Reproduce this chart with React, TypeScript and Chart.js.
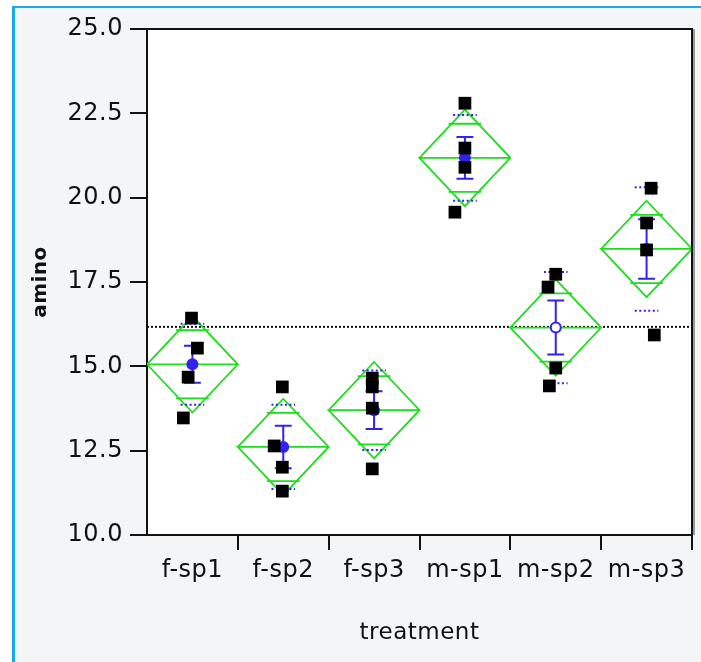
import React, { useEffect, useRef } from 'react';
import { Chart, registerables } from 'chart.js';

Chart.register(...registerables);

// ---- data ----
const CATEGORIES = ['f-sp1', 'f-sp2', 'f-sp3', 'm-sp1', 'm-sp2', 'm-sp3'];
const AMINO_FSP1 = [16.43, 15.54, 14.68, 13.47];
const AMINO_FSP2 = [14.39, 12.64, 12.01, 11.3];
const AMINO_FSP3 = [14.65, 14.39, 13.76, 11.96];
const AMINO_MSP1 = [22.8, 21.47, 20.9, 19.57];
const AMINO_MSP2 = [17.73, 17.35, 14.95, 14.42];
const AMINO_MSP3 = [20.28, 19.25, 18.45, 15.93];
const AMINO = [AMINO_FSP1, AMINO_FSP2, AMINO_FSP3, AMINO_MSP1, AMINO_MSP2, AMINO_MSP3];
// horizontal jitter of each point, in category units
const JITTER = [
  [-0.01, 0.055, -0.047, -0.1],
  [-0.01, -0.1, -0.01, -0.01],
  [-0.02, -0.02, -0.02, -0.02],
  [0, 0, 0, -0.11],
  [0, -0.085, 0, -0.07],
  [0.05, 0, 0, 0.085],
];
const GROUP_MEANS = [15.06, 12.61, 13.7, 21.18, 16.15, 18.48];
const GROUP_SD = [1.2, 1.25, 1.18, 1.27, 1.65, 1.83];
const GROUP_SE = [0.55, 0.63, 0.56, 0.62, 0.8, 0.88];
const CI_HALF = 1.43;
const GRAND_MEAN = 16.17;
const Y_TICKS = [10, 12.5, 15, 17.5, 20, 22.5, 25];

const GREEN = '#1fdc1f';
const BLUE = '#3322ee';
const INK = '#111111';
const FONT = 'DejaVu Sans';

type P = { x: number; y: number | null };
function joinSegments(list: P[][]): P[] {
  const out: P[] = [];
  list.forEach((s) => {
    out.push(...s);
    out.push({ x: s[0].x, y: null });
  });
  return out;
}

export default function App() {
  const ref = useRef<HTMLCanvasElement>(null);

  useEffect(() => {
    if (!ref.current) return;
    const OV = CI_HALF / Math.SQRT2;
    const OVW = 0.18;
    const SDW = 0.13;
    const CAPW = 0.093;

    const points = AMINO.flatMap((vals, i) => vals.map((v, j) => ({ x: i + JITTER[i][j], y: v })));
    const means = GROUP_MEANS.map((m, i) => ({ x: i, y: m }));
    const diamonds = joinSegments(
      GROUP_MEANS.map((m, i) => [
        { x: i - 0.5, y: m },
        { x: i, y: m + CI_HALF },
        { x: i + 0.5, y: m },
        { x: i, y: m - CI_HALF },
        { x: i - 0.5, y: m },
        { x: i + 0.5, y: m },
      ])
    );
    const overlap = joinSegments(
      GROUP_MEANS.flatMap((m, i) => [
        [{ x: i - OVW, y: m + OV }, { x: i + OVW, y: m + OV }],
        [{ x: i - OVW, y: m - OV }, { x: i + OVW, y: m - OV }],
      ])
    );
    const sdLines = joinSegments(
      GROUP_MEANS.flatMap((m, i) => [
        [{ x: i - SDW, y: m + GROUP_SD[i] }, { x: i + SDW, y: m + GROUP_SD[i] }],
        [{ x: i - SDW, y: m - GROUP_SD[i] }, { x: i + SDW, y: m - GROUP_SD[i] }],
      ])
    );
    const errBars = joinSegments(
      GROUP_MEANS.flatMap((m, i) => [
        [{ x: i, y: m - GROUP_SE[i] }, { x: i, y: m + GROUP_SE[i] }],
        [{ x: i - CAPW, y: m + GROUP_SE[i] }, { x: i + CAPW, y: m + GROUP_SE[i] }],
        [{ x: i - CAPW, y: m - GROUP_SE[i] }, { x: i + CAPW, y: m - GROUP_SE[i] }],
      ])
    );
    const grand = [
      { x: -0.5, y: GRAND_MEAN },
      { x: CATEGORIES.length - 0.5, y: GRAND_MEAN },
    ];

    const lineBase = {
      type: 'line' as const,
      xAxisID: 'xd',
      yAxisID: 'y',
      pointRadius: 0,
      fill: false,
      tension: 0,
      spanGaps: false,
    };

    const spacingPlugin = {
      id: 'spacing',
      beforeUpdate(chart: any) {
        chart.ctx.letterSpacing = '0.5px';
      },
      beforeDraw(chart: any) {
        chart.ctx.letterSpacing = '0.5px';
      },
    };

    const framePlugin = {
      id: 'frame',
      beforeDraw(chart: any) {
        const { ctx, chartArea: a } = chart;
        ctx.save();
        ctx.fillStyle = '#ffffff';
        ctx.fillRect(a.left, a.top, a.right - a.left, a.bottom - a.top);
        ctx.restore();
      },
      afterDraw(chart: any) {
        const { ctx, chartArea: a } = chart;
        ctx.save();
        ctx.strokeStyle = '#9a9a9a';
        ctx.lineWidth = 2;
        ctx.beginPath();
        ctx.moveTo(a.right + 2, a.top);
        ctx.lineTo(a.right + 2, a.bottom);
        ctx.stroke();
        ctx.strokeStyle = INK;
        ctx.lineWidth = 2;
        ctx.beginPath();
        ctx.moveTo(a.left, a.top);
        ctx.lineTo(a.right, a.top);
        ctx.lineTo(a.right, a.bottom);
        ctx.stroke();
        ctx.restore();
      },
    };

    const chart = new Chart(ref.current, {
      type: 'line',
      data: {
        labels: CATEGORIES,
        datasets: [
          {
            type: 'scatter',
            xAxisID: 'xd',
            yAxisID: 'y',
            data: points,
            pointStyle: 'rect',
            pointRadius: 9,
            backgroundColor: '#000000',
            borderWidth: 0,
            showLine: false,
          },
          {
            type: 'scatter',
            xAxisID: 'xd',
            yAxisID: 'y',
            data: means,
            pointStyle: 'circle',
            pointRadius: 5,
            backgroundColor: (c: any) => (c.dataIndex === 4 ? '#ffffff' : BLUE),
            borderColor: BLUE,
            borderWidth: 2,
            showLine: false,
          },
          { ...lineBase, data: errBars, borderColor: BLUE, borderWidth: 2 },
          { ...lineBase, data: sdLines, borderColor: BLUE, borderWidth: 2, borderDash: [2, 2.5] },
          { ...lineBase, data: overlap, borderColor: GREEN, borderWidth: 1.8 },
          { ...lineBase, data: diamonds, borderColor: GREEN, borderWidth: 1.8 },
          { ...lineBase, data: grand, borderColor: INK, borderWidth: 2, borderDash: [2, 2] },
        ] as any,
      },
      options: {
        animation: false,
        responsive: false,
        events: [],
        layout: { padding: { top: 29, right: 6, left: 0, bottom: 0 } },
        plugins: { legend: { display: false }, tooltip: { enabled: false } },
        font: { family: FONT, size: 24 },
        scales: {
          x: {
            type: 'category',
            position: 'bottom',
            offset: true,
            afterFit: (s: any) => {
              s.height = 127;
            },
            grid: {
              offset: true,
              drawOnChartArea: false,
              drawTicks: true,
              tickLength: 15,
              lineWidth: 2,
              color: (c: any) => (c.index === 0 ? 'rgba(0,0,0,0)' : INK),
              tickColor: (c: any) => (c.index === 0 ? 'rgba(0,0,0,0)' : INK),
            },
            border: { display: true, color: INK, width: 2 },
            ticks: {
              color: INK,
              font: { family: FONT, size: 24 },
              padding: 6,
              maxRotation: 0,
              autoSkip: false,
            },
            title: {
              display: true,
              text: 'treatment',
              color: INK,
              font: { family: FONT, size: 23 },
              padding: { top: 0, bottom: 15 },
            },
          },
          xd: {
            type: 'linear',
            position: 'bottom',
            display: false,
            min: -0.5,
            max: CATEGORIES.length - 0.5,
          },
          y: {
            type: 'linear',
            position: 'left',
            min: 10,
            max: 25,
            afterFit: (s: any) => {
              s.width = 147;
            },
            afterBuildTicks: (s: any) => {
              s.ticks = Y_TICKS.map((v) => ({ value: v }));
            },
            grid: {
              drawOnChartArea: false,
              drawTicks: true,
              tickLength: 17,
              lineWidth: 2,
              color: INK,
            },
            border: { display: true, color: INK, width: 2 },
            ticks: {
              color: INK,
              font: { family: FONT, size: 24 },
              padding: 7,
              callback: (v: any) => Number(v).toFixed(1),
            },
            title: {
              display: true,
              text: 'amino',
              color: INK,
              font: { family: FONT, size: 20, weight: 'bold' },
              padding: { top: 29, bottom: 0 },
            },
          },
        },
      } as any,
      plugins: [spacingPlugin, framePlugin],
    });

    return () => chart.destroy();
  }, []);

  return (
    <div style={{ position: 'relative', width: 701, height: 662, background: '#ffffff', overflow: 'hidden' }}>
      <style>{'body{margin:0}'}</style>
      <div
        style={{
          position: 'absolute',
          left: 12,
          top: 6,
          right: 0,
          bottom: 0,
          background: '#f4f5f7',
          borderLeft: '3px solid #19a9e6',
          borderTop: '2px solid #19a9e6',
        }}
      />
      <canvas ref={ref} width={701} height={662} style={{ position: 'absolute', left: 0, top: 0, display: 'block' }} />
    </div>
  );
}
